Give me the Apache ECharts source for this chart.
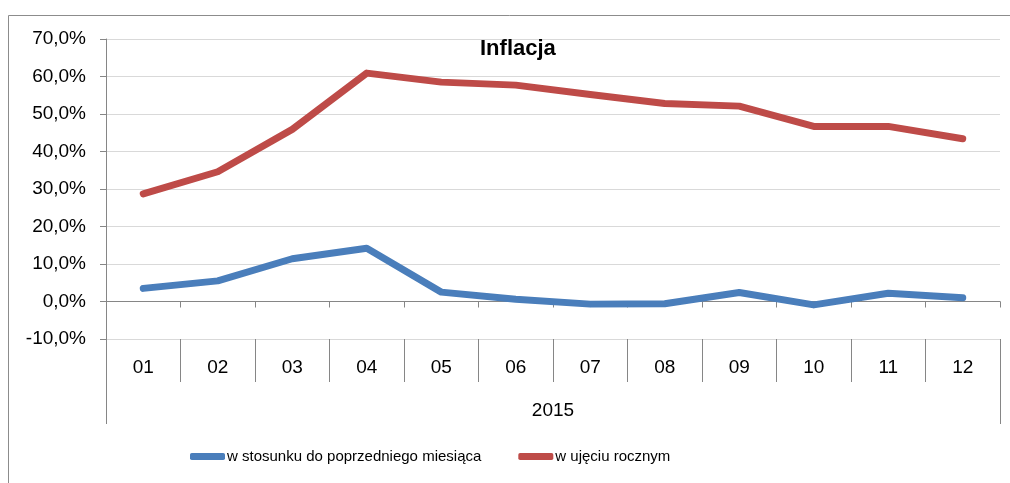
<!DOCTYPE html>
<html>
<head>
<meta charset="utf-8">
<script src="https://cdn.jsdelivr.net/npm/echarts@6/dist/echarts.min.js"></script>
<style>
  html, body { margin: 0; padding: 0; background: #fff; }
  #main { width: 1010px; height: 483px; }
</style>
</head>
<body>
<div id="main"></div>
<script>
// dane
var months = ["01", "02", "03", "04", "05", "06", "07", "08", "09", "10", "11", "12"];
var years = ["2015"];
var monthly = [3.5, 5.5, 11.4, 14.2, 2.5, 0.6, -0.7, -0.6, 2.4, -0.9, 2.2, 1.0]; // w stosunku do poprzedniego miesiąca
var yearly = [28.7, 34.6, 45.9, 60.9, 58.5, 57.7, 55.2, 52.8, 52.1, 46.7, 46.7, 43.4]; // w ujęciu rocznym
var yMin = -10, yMax = 70, yStep = 10;

var font = "Liberation Sans, Arial, sans-serif";
var axisGray = "#868686";

var myChart = echarts.init(document.getElementById("main"), null, { renderer: "canvas" });

var option = {
  animation: false,
  textStyle: { fontFamily: font, color: "#000" },
  title: {
    text: "Inflacja",
    left: 475,
    top: 33,
    textStyle: { fontFamily: font, fontSize: 22, fontWeight: "bold", color: "#000" },
  },
  graphic: [
    {
      type: "rect",
      shape: { x: 8.5, y: 15.5, width: 1010, height: 500 },
      style: { fill: null, stroke: "#8c8c8c", lineWidth: 1 },
      silent: true,
    },
  ],
  legend: {
    left: 185,
    top: 444,
    itemWidth: 35,
    itemHeight: 7,
    itemGap: 37,
    icon: "roundRect",
    textStyle: { fontFamily: font, fontSize: 15, color: "#000", padding: [0, 0, 0, -3] },
    data: ["w stosunku do poprzedniego miesiąca", "w ujęciu rocznym"],
  },
  grid: { left: 106, right: 10, top: 39, bottom: 144, containLabel: false },
  xAxis: [
    {
      // oś na zerze
      type: "category",
      data: months,
      boundaryGap: true,
      axisLine: { onZero: true, lineStyle: { color: axisGray, width: 1 } },
      axisTick: { show: true, length: 6, lineStyle: { color: axisGray } },
      axisLabel: { show: false },
      splitLine: { show: false },
    },
    {
      // etykiety miesięcy na dole
      type: "category",
      data: months,
      position: "bottom",
      boundaryGap: true,
      axisLine: { show: false, onZero: false },
      axisTick: { show: true, length: 43, lineStyle: { color: axisGray } },
      axisLabel: { margin: 19, fontSize: 19, color: "#000", fontFamily: font },
      splitLine: { show: false },
    },
    {
      // rok
      type: "category",
      data: years,
      position: "bottom",
      boundaryGap: true,
      axisLine: { show: false, onZero: false },
      axisTick: { show: true, length: 85, lineStyle: { color: axisGray } },
      axisLabel: { margin: 62, fontSize: 19, color: "#000", fontFamily: font },
      splitLine: { show: false },
    },
  ],
  yAxis: {
    type: "value",
    min: yMin,
    max: yMax,
    interval: yStep,
    axisLine: { show: true, lineStyle: { color: axisGray } },
    axisTick: { show: true, length: 6, lineStyle: { color: axisGray } },
    axisLabel: {
      margin: 20,
      fontSize: 19,
      color: "#000",
      fontFamily: font,
      formatter: function (v) {
        return v.toFixed(1).replace(".", ",") + "%";
      },
    },
    splitLine: { show: true, lineStyle: { color: "#d9d9d9", width: 1 } },
  },
  series: [
    {
      name: "w stosunku do poprzedniego miesiąca",
      type: "line",
      xAxisIndex: 0,
      data: monthly,
      showSymbol: false,
      symbol: "none",
      itemStyle: { color: "#4A7EBB" },
      lineStyle: { color: "#4A7EBB", width: 7, cap: "round", join: "round" },
    },
    {
      name: "w ujęciu rocznym",
      type: "line",
      xAxisIndex: 0,
      data: yearly,
      showSymbol: false,
      symbol: "none",
      itemStyle: { color: "#BE4B48" },
      lineStyle: { color: "#BE4B48", width: 7, cap: "round", join: "round" },
    },
  ],
};

myChart.setOption(option);
window.addEventListener("resize", myChart.resize);
</script>
</body>
</html>
